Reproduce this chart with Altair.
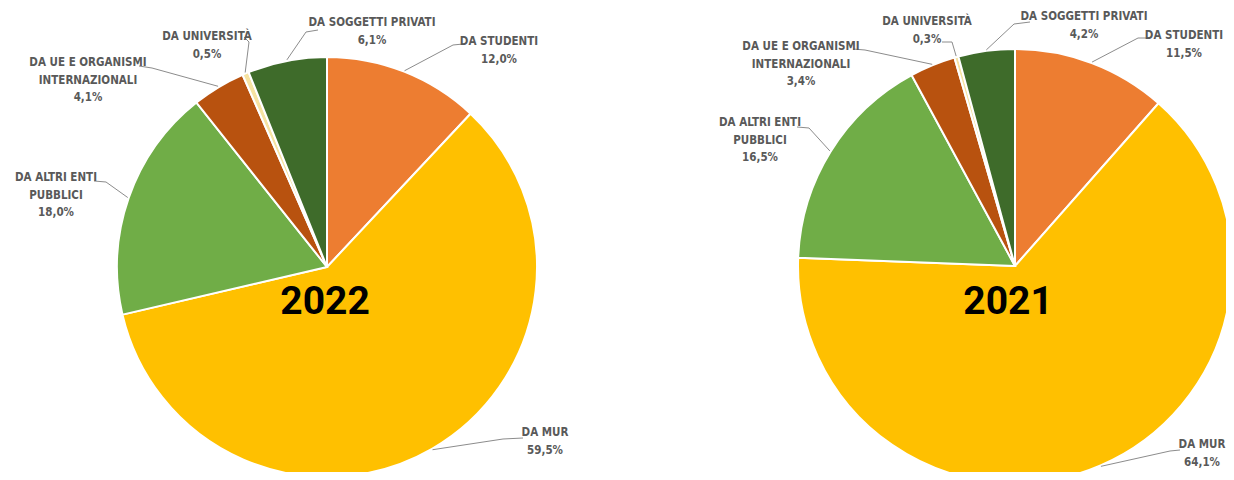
import altair as alt
import pandas as pd
import numpy as np

# ---------------- data ----------------
categories = [
    "DA STUDENTI",
    "DA MUR",
    "DA ALTRI ENTI PUBBLICI",
    "DA UE E ORGANISMI INTERNAZIONALI",
    "DA UNIVERSITÀ",
    "DA SOGGETTI PRIVATI",
]
label_lines = [
    ["DA STUDENTI"],
    ["DA MUR"],
    ["DA ALTRI ENTI", "PUBBLICI"],
    ["DA UE E ORGANISMI", "INTERNAZIONALI"],
    ["DA UNIVERSITÀ"],
    ["DA SOGGETTI PRIVATI"],
]
years = ["2022", "2021"]
values_2022 = [12.0, 59.5, 18.0, 4.1, 0.5, 6.1]
values_2021 = [11.5, 64.1, 16.5, 3.4, 0.3, 4.2]
pct_2022 = ["12,0%", "59,5%", "18,0%", "4,1%", "0,5%", "6,1%"]
pct_2021 = ["11,5%", "64,1%", "16,5%", "3,4%", "0,3%", "4,2%"]
colors = ["#ED7D31", "#FFC000", "#70AD47", "#B8520F", "#F6E3A1", "#3E6B2A"]

# ---------------- layout (page pixels) ----------------
M = 8
W, H = 1218, 464
pies = {"2022": (327, 267, 210), "2021": (1015, 266, 217)}
# label centre x, first line y, leader start, leader elbow
label_layout = {
    "2022": [
        (499, 42, (463, 44), (453, 45)),
        (545, 433, (523, 438), (503, 439)),
        (56, 178, (94, 181), (106, 182)),
        (88, 63, (139, 66), (152, 68)),
        (207, 37, (244, 37), (249, 42)),
        (372, 23, (318, 30), (306, 32)),
    ],
    "2021": [
        (1184, 36, (1150, 38), (1138, 38)),
        (1202, 445, (1180, 450), (1170, 451)),
        (760, 123, (797, 127), (809, 128)),
        (801, 47, (853, 49), (865, 50)),
        (927, 22, (942, 42), (952, 42)),
        (1084, 17, (1030, 22), (1014, 24)),
    ],
}
year_pos = {"2022": (325, 302), "2021": (1008, 302)}
LINE_H = 17.5

values = {"2022": values_2022, "2021": values_2021}
pcts = {"2022": pct_2022, "2021": pct_2021}

slices = []
for y in years:
    for i, (c, v) in enumerate(zip(categories, values[y])):
        slices.append({"year": y, "category": c, "value": v, "order": i})
df_slices = pd.DataFrame(slices)

texts, lines = [], []
for y in years:
    cx, cy, r = pies[y]
    vals = np.array(values[y])
    cum = np.cumsum(vals)
    mids = (cum - vals / 2) / vals.sum() * 2 * np.pi
    for i, c in enumerate(categories):
        lx, ly, p0, p1 = label_layout[y][i]
        rows = label_lines[i] + [pcts[y][i]]
        for k, t in enumerate(rows):
            texts.append({"x": lx - M, "y": ly + k * LINE_H - M, "text": t})
        ex = cx + (r + 1) * np.sin(mids[i])
        ey = cy - (r + 1) * np.cos(mids[i])
        key = f"{y}-{i}"
        for s, (px, py) in enumerate([p0, p1, (ex, ey)]):
            lines.append({"key": key, "seq": s, "x": px - M, "y": py - M})
df_text = pd.DataFrame(texts)
df_lines = pd.DataFrame(lines)
df_years = pd.DataFrame(
    [{"x": year_pos[y][0] - M, "y": year_pos[y][1] - M, "text": y} for y in years]
)

color_scale = alt.Scale(domain=categories, range=colors)

arc_layers = []
for y in years:
    cx, cy, r = pies[y]
    arc_layers.append(
        alt.Chart(df_slices)
        .transform_filter(alt.datum.year == y)
        .mark_arc(outerRadius=r, stroke="white", strokeWidth=2)
        .encode(
            theta=alt.Theta("value:Q", stack=True),
            color=alt.Color("category:N", scale=color_scale, legend=None),
            order=alt.Order("order:Q"),
            x=alt.value(cx - M),
            y=alt.value(cy - M),
        )
    )

leader = (
    alt.Chart(df_lines)
    .mark_line(color="#8C8C8C", strokeWidth=1)
    .encode(
        x=alt.X("x:Q", scale=None, axis=None),
        y=alt.Y("y:Q", scale=None, axis=None),
        detail="key:N",
        order="seq:Q",
    )
)

label_font = "Liberation Sans Narrow, DejaVu Sans Condensed, sans-serif"
labels = (
    alt.Chart(df_text)
    .mark_text(
        font=label_font,
        fontSize=11.5,
        fontWeight="bold",
        color="#595959",
        align="center",
        baseline="middle",
    )
    .encode(
        x=alt.X("x:Q", scale=None, axis=None),
        y=alt.Y("y:Q", scale=None, axis=None),
        text="text:N",
    )
)

year_text = (
    alt.Chart(df_years)
    .mark_text(
        font="Roboto, DejaVu Sans, sans-serif",
        fontSize=39,
        fontWeight="bold",
        color="#000000",
        align="center",
        baseline="middle",
    )
    .encode(
        x=alt.X("x:Q", scale=None, axis=None),
        y=alt.Y("y:Q", scale=None, axis=None),
        text="text:N",
    )
)

chart = (
    alt.layer(*arc_layers, leader, labels, year_text)
    .resolve_scale(theta="independent")
    .properties(width=W, height=H, padding=0, autosize=alt.AutoSizeParams(type="none"))
    .configure_view(stroke=None)
)

chart.save("out.html", embed_options={"renderer": "svg", "actions": False})
